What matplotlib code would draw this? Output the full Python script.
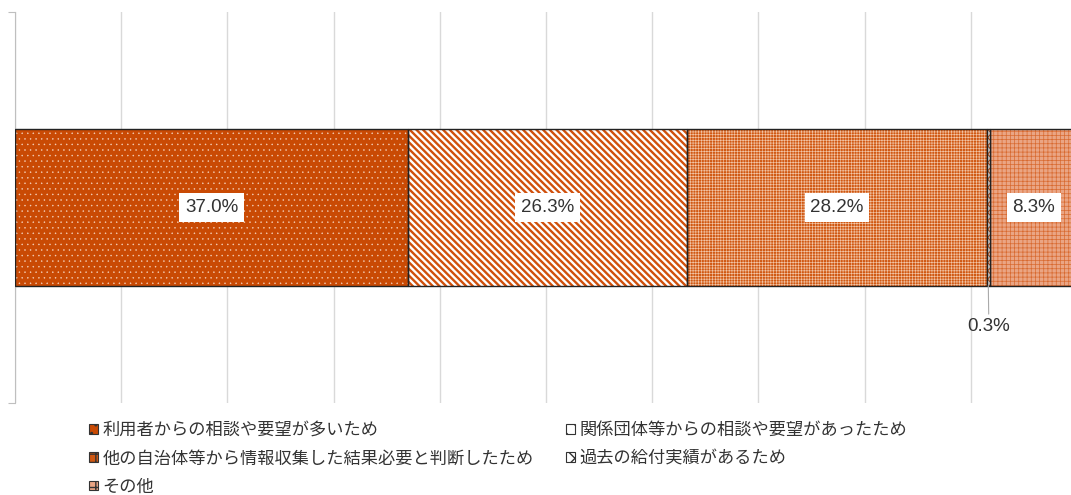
import matplotlib.pyplot as plt
from matplotlib.patches import Patch

plt.rcParams['font.family'] = ['Noto Sans CJK JP', 'DejaVu Sans']

# 回答の割合 (%)
categories = [
    '利用者からの相談や要望が多いため',
    '関係団体等からの相談や要望があったため',
    '他の自治体等から情報収集した結果必要と判断したため',
    '過去の給付実績があるため',
    'その他',
]
values = [37.0, 26.3, 28.2, 0.3, 8.3]
labels = ['37.0%', '26.3%', '28.2%', '0.3%', '8.3%']

# segment styles: face, hatch, hatch colour, hatch width
styles = [
    ('#C94A04', '...', '#F4D2BC', 0.3),
    ('white', '\\\\\\\\\\', '#D0500C', 1.7),
    ('#D05812', '++++++', '#F3C6A8', 0.45),
    ('white', 'xxxx', '#D0500C', 0.8),
    ('#EAA584', '++++', '#D86A30', 0.5),
]

fig = plt.figure(figsize=(10.71, 4.95), dpi=100)
W, H = 1071, 495
ax = fig.add_axes([15 / W, (H - 403) / H, 1062 / W, 391 / H])

left = 0.0
for v, (fc, hatch, hc, hlw) in zip(values, styles):
    with plt.rc_context({'hatch.linewidth': hlw}):
        b = ax.barh(0, v / 100, left=left, height=0.4, color=fc, hatch=hatch,
                    edgecolor=hc, linewidth=0, zorder=2)
    for p in b:
        if hasattr(p, 'set_hatch_linewidth'):
            p.set_hatch_linewidth(hlw)
    ax.barh(0, v / 100, left=left, height=0.4, fill=False, edgecolor='#222222',
            linewidth=1.0, zorder=3)
    left += v / 100

# data labels
left = 0.0
for v, lab in zip(values, labels):
    cx = left + v / 200
    if v < 1:
        ax.annotate(lab, xy=(left + v / 200, -0.2), xytext=(left + 0.002, -0.305),
                    ha='center', va='center', fontsize=13.5, family='Liberation Sans',
                    color='#333333',
                    arrowprops=dict(arrowstyle='-', color='#AAAAAA', lw=0.8,
                                    shrinkA=1, shrinkB=0), zorder=4)
    else:
        ax.text(cx, 0, lab, ha='center', va='center', fontsize=13.5,
                family='Liberation Sans', color='#333333', zorder=4,
                bbox=dict(boxstyle='square,pad=0.3', fc='white', ec='none'))
    left += v / 100

ax.set_xlim(0, 1.0)
ax.set_ylim(-0.5, 0.5)
ax.set_xticks([i / 10 for i in range(11)])
ax.xaxis.grid(True, color='#D9D9D9', linewidth=1.0, zorder=0)
ax.set_axisbelow(True)
ax.tick_params(axis='x', length=0, labelbottom=False)
ax.set_yticks([-0.5, 0.5])
ax.tick_params(axis='y', length=5, color='#BFBFBF', labelleft=False)
for s in ['top', 'right', 'bottom']:
    ax.spines[s].set_visible(False)
ax.spines['left'].set_color('#BFBFBF')

# legend swatches: small boxes with the segment's pattern
handles = []
for (fc, hatch, hc, hlw) in styles:
    handles.append(Patch(facecolor=fc, hatch=hatch[:2], edgecolor='#333333',
                         linewidth=0.8))
order = [0, 2, 4, 1, 3]
fig.legend([handles[i] for i in order], [categories[i] for i in order],
           loc='upper left', bbox_to_anchor=(89 / W, 1 - 421 / H), ncol=2,
           frameon=False, fontsize=12.4, handlelength=0.5, handleheight=0.5,
           handletextpad=0.3, columnspacing=1.85, labelspacing=0.6,
           borderaxespad=0, borderpad=0, labelcolor='#333333')

fig.savefig('out.png', dpi=100)
